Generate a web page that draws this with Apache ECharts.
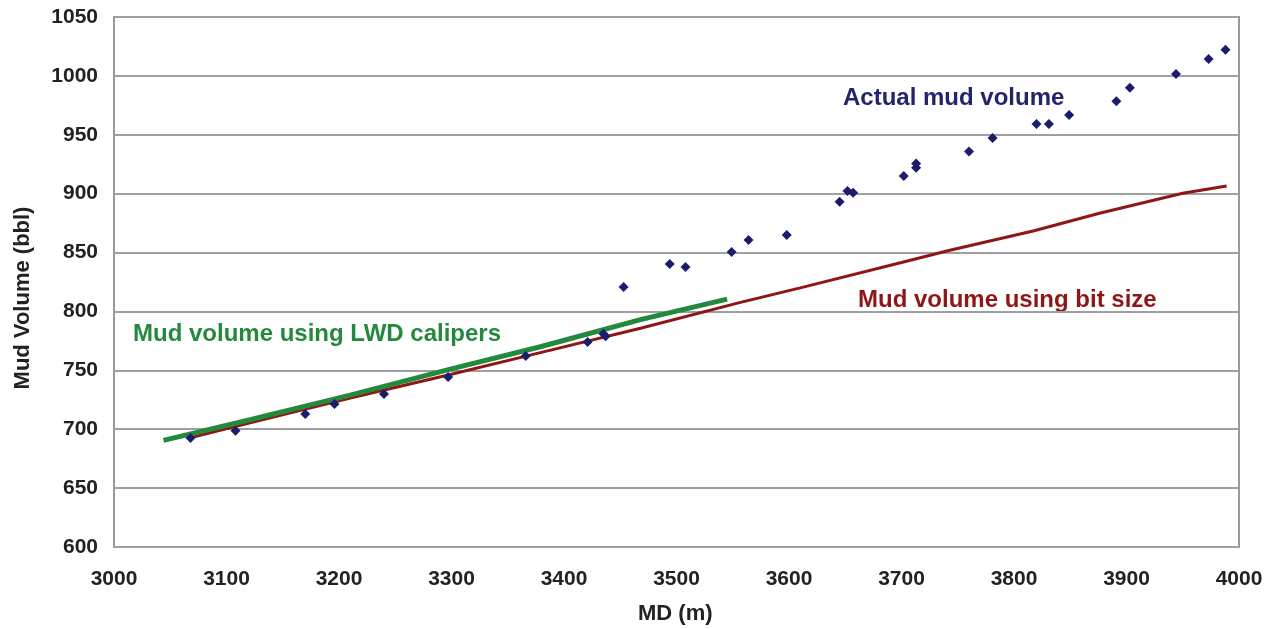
<!DOCTYPE html>
<html>
<head>
<meta charset="utf-8">
<script src="https://cdn.jsdelivr.net/npm/echarts@6/dist/echarts.min.js"></script>
<style>
  html, body { margin: 0; padding: 0; background: #fff; }
  #chart { width: 1276px; height: 629px; }
</style>
</head>
<body>
<div id="chart"></div>
<script>
// Measured depth (m) vs. mud volume (bbl)
const actualMud = [
  [3068, 692.6], [3108, 698.6], [3170, 713], [3196, 721.5], [3240, 730],
  [3297, 744.4], [3366, 762.2], [3421, 774.1], [3435, 781], [3437, 779],
  [3453, 820.8], [3494, 840.3], [3508, 837.8], [3549, 850.5], [3564, 860.7],
  [3598, 865], [3645, 893.2], [3652, 902.3], [3657, 900.8], [3702, 915],
  [3713, 925.6], [3713, 922], [3760, 935.7], [3781, 947.3], [3820, 959.2],
  [3831, 959.2], [3849, 966.8], [3891, 978.4], [3903, 990], [3944, 1001.6],
  [3973, 1014.3], [3988, 1022.2]
];

const bitSizeMud = [
  [3065, 692], [3121, 705.5], [3210, 726.5], [3299, 746.5], [3379, 765],
  [3468, 785.7], [3556, 807.5], [3610, 820], [3700, 841.5], [3743, 852],
  [3817, 868.3], [3876, 883.4], [3950, 900.3], [3989, 906.5]
];

const lwdMud = [
  [3044, 690.5], [3121, 708], [3210, 729], [3299, 751], [3379, 770],
  [3468, 793], [3545, 810.5]
];

const xTicks = { min: 3000, max: 4000, interval: 100 };
const yTicks = { min: 600, max: 1050, interval: 50 };

const FONT = '"Liberation Sans", Arial, sans-serif';
const chart = echarts.init(document.getElementById('chart'), null, { renderer: 'canvas' });

chart.setOption({
  animation: false,
  backgroundColor: '#ffffff',
  grid: {
    left: 114, right: 37, top: 17, bottom: 82,
    show: true, borderColor: '#9a9a9a', borderWidth: 2
  },
  xAxis: {
    type: 'value',
    min: xTicks.min, max: xTicks.max, interval: xTicks.interval,
    axisLine: { show: false },
    axisTick: { show: false },
    splitLine: { show: false },
    axisLabel: {
      color: '#222', fontFamily: FONT, fontWeight: 'bold', fontSize: 21, margin: 22,
      formatter: v => String(v)
    }
  },
  yAxis: {
    type: 'value',
    min: yTicks.min, max: yTicks.max, interval: yTicks.interval,
    axisLine: { show: false },
    axisTick: { show: false },
    splitLine: { show: true, lineStyle: { color: '#a0a0a0', width: 2 } },
    axisLabel: {
      color: '#222', fontFamily: FONT, fontWeight: 'bold', fontSize: 21, margin: 16,
      formatter: v => String(v)
    }
  },
  series: [
    {
      name: 'Mud volume using bit size',
      type: 'line',
      data: bitSizeMud,
      showSymbol: false,
      lineStyle: { color: '#8e1616', width: 3 },
      z: 2
    },
    {
      name: 'Mud volume using LWD calipers',
      type: 'line',
      data: lwdMud,
      showSymbol: false,
      lineStyle: { color: '#23893d', width: 5 },
      z: 3
    },
    {
      name: 'Actual mud volume',
      type: 'scatter',
      data: actualMud,
      symbol: 'diamond',
      symbolSize: 10,
      itemStyle: { color: '#1c1c6c', opacity: 1 },
      z: 4
    }
  ],
  graphic: [
    {
      type: 'text', left: 843, top: 86,
      style: { text: 'Actual mud volume', fill: '#24246e', font: 'bold 24px ' + FONT }
    },
    {
      type: 'text', left: 858, top: 288,
      style: { text: 'Mud volume using bit size', fill: '#8e1616', font: 'bold 24px ' + FONT }
    },
    {
      type: 'text', left: 133, top: 322,
      style: { text: 'Mud volume using LWD calipers', fill: '#23893d', font: 'bold 24px ' + FONT }
    },
    {
      type: 'text', left: 638, top: 603,
      style: { text: 'MD (m)', fill: '#222', font: 'bold 22px ' + FONT }
    },
    {
      type: 'text', x: 23, y: 298, rotation: Math.PI / 2,
      style: {
        text: 'Mud Volume (bbl)', fill: '#222', font: 'bold 22px ' + FONT,
        align: 'center', verticalAlign: 'middle'
      }
    }
  ]
});
</script>
</body>
</html>
